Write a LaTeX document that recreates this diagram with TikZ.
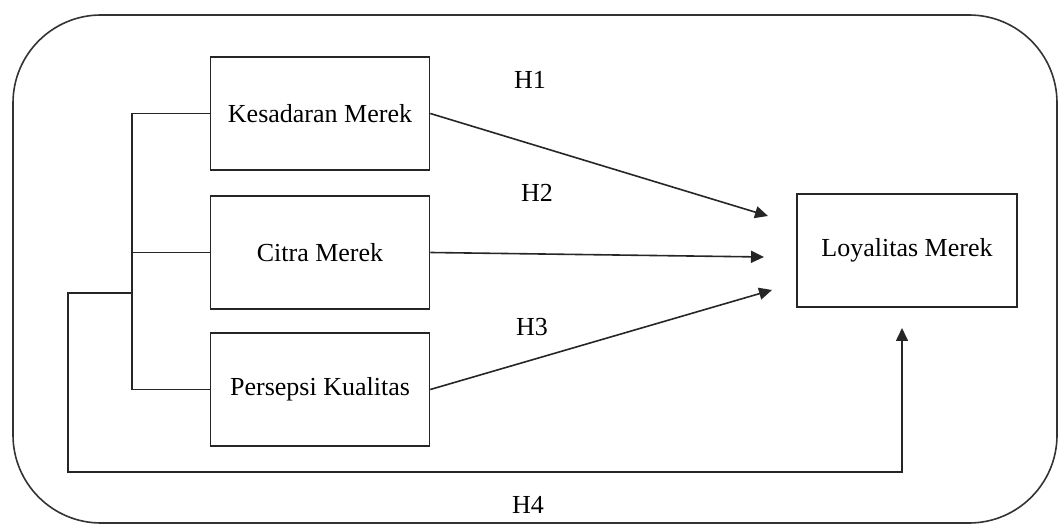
\documentclass[tikz,border=0pt]{standalone}
\usepackage{fontspec}
\setmainfont{Liberation Serif}
\usetikzlibrary{arrows.meta}

\begin{document}
\begin{tikzpicture}[x=0.5pt,y=-0.5pt,
        varbox/.style={rectangle, draw=black!85, line width=0.8pt, minimum width=109.5pt, minimum height=56.5pt, font=\fontsize{13}{15}\selectfont},
        link/.style={draw=black!85, line width=0.8pt},
        hyp/.style={link, -{Triangle[length=6.5pt,width=6pt]}},
        hlabel/.style={font=\fontsize{13}{15}\selectfont}
        ]
            \useasboundingbox (0,0) rectangle (1059,528);
            \draw[draw=black!80, line width=0.8pt, rounded corners=44pt] (13,15) rectangle (1057,523);

            \node[varbox] (KM) at (320,113.5) {Kesadaran Merek};
            \node[varbox] (CM) at (320,252.5) {Citra Merek};
            \node[varbox] (PK) at (320,389.5) {Persepsi Kualitas};
            \node[varbox, minimum width=110pt] (LM) at (907,250.5) {Loyalitas Merek};

            \coordinate (T1) at (768,216);
            \coordinate (T2) at (764,257);
            \coordinate (T3) at (772,290);
            \coordinate (T4) at (902,328);
            \coordinate (B1) at (132,113.5);
            \coordinate (B2) at (132,252.5);
            \coordinate (B3) at (132,389.5);
            \coordinate (J) at (132,293);

            \node[hlabel] (H1) at (530,80) {H1};
            \node[hlabel] (H2) at (537,193) {H2};
            \node[hlabel] (H3) at (532,327) {H3};
            \node[hlabel] (H4) at (528,505) {H4};

            \draw[hyp] (KM.east) -- (T1);
            \draw[hyp] (CM.east) -- (T2);
            \draw[hyp] (PK.east) -- (T3);

            \draw[link] (KM.west) -- (B1) -- (B3) -- (PK.west);
            \draw[link] (CM.west) -- (B2);
            \draw[hyp] (J) -- (68,293) -- (68,472) -- (902,472) -- (T4);

        \end{tikzpicture}
\end{document}
